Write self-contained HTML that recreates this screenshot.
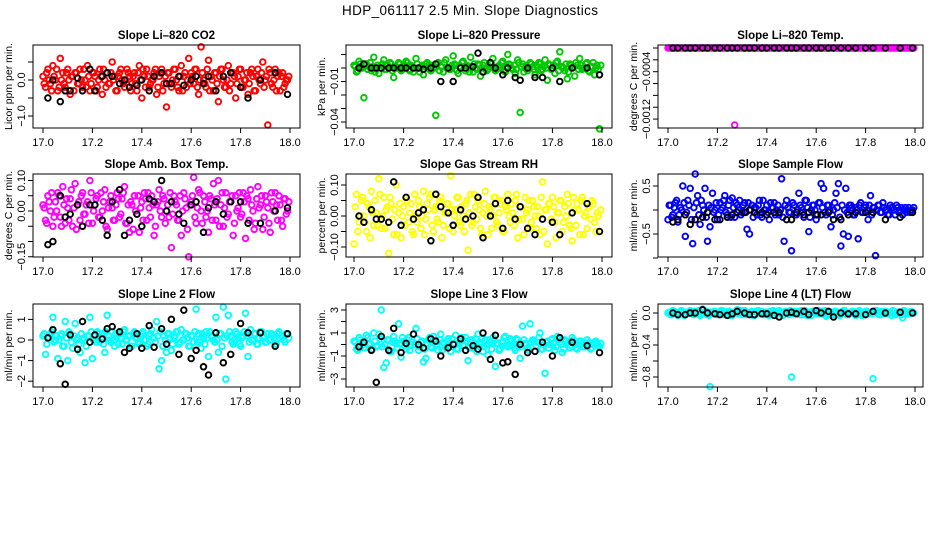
<!DOCTYPE html>
<html><head><meta charset="utf-8"><style>
html,body{margin:0;padding:0;background:#fff;}
svg{display:block;font-family:"Liberation Sans",sans-serif;}
</style></head><body>
<svg id="chart" width="936" height="540" viewBox="0 0 936 540" xmlns="http://www.w3.org/2000/svg">
<rect width="936" height="540" fill="#fff"/>
<text x="470" y="15" text-anchor="middle" font-size="13.5" textLength="256">HDP_061117  2.5 Min. Slope Diagnostics</text>
</svg>
<script>
const timesAll=[17.00,17.01,17.02,17.03,17.04,17.05,17.06,17.07,17.08,17.09,17.10,17.11,17.12,17.13,17.14,17.15,17.16,17.17,17.18,17.19,17.20,17.21,17.22,17.23,17.24,17.25,17.26,17.27,17.28,17.29,17.30,17.31,17.32,17.33,17.34,17.35,17.36,17.37,17.38,17.39,17.40,17.41,17.42,17.43,17.44,17.45,17.46,17.47,17.48,17.49,17.50,17.51,17.52,17.53,17.54,17.55,17.56,17.57,17.58,17.59,17.60,17.61,17.62,17.63,17.64,17.65,17.66,17.67,17.68,17.69,17.70,17.71,17.72,17.73,17.74,17.75,17.76,17.77,17.78,17.79,17.80,17.81,17.82,17.83,17.84,17.85,17.86,17.87,17.88,17.89,17.90,17.91,17.92,17.93,17.94,17.95,17.96,17.97,17.98,17.99];
const timesAll2=[17.005,17.015,17.025,17.035,17.045,17.055,17.065,17.075,17.085,17.095,17.105,17.115,17.125,17.135,17.145,17.155,17.165,17.175,17.185,17.195,17.205,17.215,17.225,17.235,17.245,17.255,17.265,17.275,17.285,17.295,17.305,17.315,17.325,17.335,17.345,17.355,17.365,17.375,17.385,17.395,17.405,17.415,17.425,17.435,17.445,17.455,17.465,17.475,17.485,17.495,17.505,17.515,17.525,17.535,17.545,17.555,17.565,17.575,17.585,17.595,17.605,17.615,17.625,17.635,17.645,17.655,17.665,17.675,17.685,17.695,17.705,17.715,17.725,17.735,17.745,17.755,17.765,17.775,17.785,17.795,17.805,17.815,17.825,17.835,17.845,17.855,17.865,17.875,17.885,17.895,17.905,17.915,17.925,17.935,17.945,17.955,17.965,17.975,17.985,17.995];
const timesSel=[17.02,17.04,17.07,17.09,17.11,17.14,17.16,17.19,17.21,17.24,17.26,17.28,17.31,17.33,17.35,17.38,17.40,17.43,17.45,17.48,17.50,17.52,17.55,17.57,17.60,17.62,17.65,17.67,17.70,17.73,17.76,17.80,17.83,17.88,17.94,17.99];
const co2All=[0.1,-0.2,0.3,-0.1,0.4,0.0,-0.3,0.6,0.2,-0.2,0.3,-0.4,0.1,0.2,-0.1,0.3,-0.2,0.0,0.4,-0.3,0.2,0.1,-0.2,0.3,-0.4,0.0,0.2,-0.1,0.5,0.1,-0.3,0.2,0.0,-0.2,0.3,0.1,-0.1,0.2,-0.3,0.4,-0.5,0.1,0.3,-0.2,0.0,0.2,-0.4,0.1,0.3,-0.1,-0.75,0.2,-0.2,0.3,0.0,-0.3,0.4,0.1,-0.2,0.6,0.2,-0.1,0.3,-0.4,0.92,0.0,-0.2,0.55,0.1,-0.3,0.2,-0.6,0.3,0.0,-0.2,0.4,-0.1,0.2,-0.5,0.1,0.3,-0.2,0.0,-0.4,0.2,0.1,-0.3,0.3,-0.1,0.5,0.0,-1.25,0.2,-0.2,0.3,0.1,-0.3,0.2,-0.1,0.0];
const co2All2=[-0.1,0.2,0.0,-0.3,0.1,0.3,-0.2,0.0,-0.1,0.2,0.0,0.1,-0.3,0.2,-0.1,0.0,0.3,-0.2,0.1,-0.1,0.2,-0.3,0.0,0.1,0.3,-0.2,-0.1,0.2,0.0,-0.3,0.1,0.3,-0.1,0.0,0.2,-0.3,0.1,-0.1,0.2,0.0,0.3,-0.2,0.1,-0.1,0.0,0.3,-0.2,0.2,-0.3,0.1,0.2,-0.1,0.0,0.3,-0.2,0.1,-0.3,0.2,0.0,-0.1,0.1,0.3,-0.2,0.0,0.2,-0.1,0.3,-0.3,0.0,0.2,-0.1,0.1,0.3,-0.2,0.0,-0.3,0.2,0.1,-0.1,0.3,-0.2,0.0,0.2,-0.1,0.3,-0.3,0.1,0.0,0.2,-0.2,0.1,0.3,-0.1,0.0,-0.3,0.2,0.1,-0.2,0.0,0.1];
const co2Sel=[-0.5,0.0,-0.6,-0.3,-0.3,0.05,-0.3,0.3,-0.3,0.1,0.2,0.1,-0.1,0.0,-0.2,-0.15,0.0,-0.3,0.1,0.2,-0.1,-0.1,0.1,-0.15,0.0,0.1,-0.1,0.1,-0.3,0.1,0.2,-0.2,-0.5,0.0,0.2,-0.4];
const presAll=[0.002,-0.003,0.005,0,-0.022,0.003,0.001,-0.002,0.008,0,-0.004,0.002,0.006,-0.001,0,0.003,-0.007,0.001,0.004,-0.002,0,0.005,-0.001,0.002,-0.003,0.007,0,0.001,-0.005,0.003,0.002,-0.002,0,-0.035,0.004,0.001,-0.003,0.006,0,-0.001,0.009,0.002,-0.004,0,0.005,-0.002,0.001,0.008,-0.003,0,0.003,-0.006,0.002,0,-0.001,0.004,0.007,-0.002,0.001,0,0.005,-0.003,0.010,0.002,-0.001,-0.004,0.006,-0.033,0.003,0,-0.002,0.004,0.001,-0.005,0,0.003,-0.001,0.006,-0.009,0.002,0,-0.004,0.005,0.012,0.001,-0.002,-0.008,0.003,0,-0.006,0.002,0.007,-0.001,0,0.004,-0.003,0.001,-0.005,0.002,-0.045];
const presAll2=[0.001,-0.002,0.003,0,0.002,-0.001,0.004,0.001,-0.003,0.002,0,0.003,-0.001,0.002,0.004,-0.002,0.001,0,0.003,-0.001,0.002,0.004,-0.002,0.001,0,0.003,-0.003,0.002,0.001,0.004,-0.001,0.002,0,0.003,-0.002,0.001,0.004,0,-0.001,0.002,0.003,-0.002,0.001,0.004,0,0.002,-0.003,0.001,0.003,-0.001,0.002,0,0.004,-0.002,0.001,0.003,0,-0.001,0.002,0.004,-0.002,0.001,0.003,0,0.002,-0.001,0.004,0.001,-0.003,0.002,0,0.003,-0.001,0.002,0.004,-0.002,0.001,0,0.003,-0.001,0.002,0.004,-0.002,0.001,0,0.003,-0.003,0.002,0.001,0.004,-0.001,0.002,0,0.003,-0.002,0.001,0.004,0,-0.001,0.002];
const presSel=[0,0.003,0,0,0,0,0,0,0,0,0,-0.001,0,0.003,-0.01,0,-0.01,0,0,0.001,0.011,-0.003,0.004,0,-0.005,0,-0.007,-0.009,0,-0.007,-0.007,0,-0.01,0,0,-0.005];
const tempAll=[0,0,0,0,0,0,0,0,0,0,0,0,0,0,0,0,0,0,0,0,0,0,0,0,0,0,0,-0.0013,0,0,0,0,0,0,0,0,0,0,0,0,0,0,0,0,0,0,0,0,0,0,0,0,0,0,0,0,0,0,0,0,0,0,0,0,0,0,0,0,0,0,0,0,0,0,0,0,0,0,0,0,0,0,0,0,0,0,0,0,0,0,0,0,0,0,0,0,0,0,0,0];
const tempAll2=[0,0,0,0,0,0,0,0,0,0,0,0,0,0,0,0,0,0,0,0,0,0,0,0,0,0,0,0,0,0,0,0,0,0,0,0,0,0,0,0,0,0,0,0,0,0,0,0,0,0,0,0,0,0,0,0,0,0,0,0,0,0,0,0,0,0,0,0,0,0,0,0,0,0,0,0,0,0,0,0,0,0,0,0,0,0,0,0,0,0,0,0,0,0,0,0,0,0,0,0];
const tempSel=[0,0,0,0,0,0,0,0,0,0,0,0,0,0,0,0,0,0,0,0,0,0,0,0,0,0,0,0,0,0,0,0,0,0,0,0];
const boxAll=[0.02,-0.03,0.05,0.0,-0.05,0.03,0.06,-0.02,0.08,-0.04,0.01,0.04,-0.05,0.09,0.02,-0.03,0.06,-0.01,0.03,0.10,-0.04,0.02,0.05,-0.02,0.0,0.07,-0.06,0.03,0.01,-0.03,0.06,-0.02,0.04,0.08,-0.04,-0.07,0.02,0.05,-0.01,-0.07,0.03,0.06,-0.03,0.01,0.05,-0.08,0.02,0.07,-0.02,0.04,0.0,-0.02,-0.12,0.05,0.02,-0.03,-0.08,0.06,0.01,-0.15,0.03,0.11,-0.04,0.07,0.0,0.05,-0.02,-0.07,0.04,0.09,-0.03,0.10,0.02,-0.05,0.06,-0.01,0.03,-0.08,0.05,0.01,-0.02,0.06,-0.09,0.04,0.07,0.0,-0.04,0.08,0.02,-0.06,0.05,0.01,-0.07,0.03,0.06,-0.03,0.02,-0.05,0.04,0.0];
const boxAll2=[0.01,-0.04,0.03,0.06,-0.02,0.0,0.05,-0.05,0.02,0.04,-0.03,0.07,0.01,-0.06,0.03,0.05,-0.01,0.02,-0.04,0.06,0.0,0.04,-0.02,0.06,0.03,-0.05,0.01,0.05,-0.03,0.02,0.04,-0.01,0.06,-0.04,0.02,0.03,-0.06,0.0,0.05,0.01,-0.03,0.04,0.06,-0.02,0.02,-0.05,0.03,0.0,0.05,-0.04,0.02,0.06,-0.01,0.03,-0.03,0.05,0.0,0.04,-0.06,0.02,0.05,-0.02,0.01,0.06,-0.04,0.03,0.0,0.05,-0.03,0.02,0.04,-0.05,0.06,0.01,-0.02,0.03,0.05,-0.04,0.0,0.06,-0.01,0.03,0.05,-0.03,0.02,-0.06,0.04,0.01,0.05,-0.02,0.03,-0.04,0.06,0.0,0.02,0.05,-0.03,0.04,-0.01,0.03];
const boxSel=[-0.11,-0.10,0.05,-0.02,-0.01,0.02,-0.05,0.02,0.02,-0.03,-0.08,0.03,0.07,-0.08,-0.03,-0.01,-0.05,0.04,0.03,0.10,0.0,0.03,-0.01,-0.04,0.02,0.03,-0.07,0.01,0.03,-0.01,0.03,0.03,-0.04,-0.04,0.0,0.01];
const rhAll=[-0.09,0.07,-0.02,0.05,0.0,-0.05,0.03,0.08,-0.03,0.01,0.12,-0.04,0.06,0.02,-0.12,0.04,-0.06,0.10,0.01,-0.07,0.03,0.06,-0.02,0.04,-0.06,0.0,0.05,-0.04,0.08,-0.01,0.02,0.07,-0.05,0.03,-0.02,0.06,-0.03,0.01,0.04,0.13,-0.05,0.02,0.06,-0.03,0.0,0.04,-0.11,0.07,-0.02,0.03,0.05,-0.04,0.01,0.08,-0.06,0.02,0.0,0.06,-0.03,0.04,-0.05,0.03,0.07,-0.02,0.01,0.05,-0.07,0.03,-0.01,0.06,0.02,-0.04,0.05,0.0,0.03,-0.06,0.11,0.02,-0.09,0.04,0.06,-0.02,0.01,0.05,-0.05,0.03,0.07,-0.03,-0.08,0.02,0.04,-0.06,0.06,0.0,-0.04,0.03,0.05,-0.02,0.01,-0.05];
const rhAll2=[0.03,-0.05,0.0,0.06,-0.02,0.04,-0.07,0.01,0.05,-0.03,0.07,0.0,-0.04,0.03,0.06,-0.01,0.02,-0.06,0.04,0.0,-0.03,0.05,0.01,-0.05,0.07,-0.02,0.03,0.0,-0.06,0.04,0.06,-0.03,0.02,-0.01,0.05,-0.07,0.01,0.04,-0.04,0.02,0.0,0.06,-0.02,0.03,-0.05,0.05,0.01,-0.03,0.07,-0.01,0.02,-0.06,0.04,0.0,0.03,-0.04,0.06,-0.02,0.01,0.05,-0.05,0.02,0.0,0.04,-0.03,0.07,-0.01,0.03,-0.06,0.01,0.05,-0.02,0.03,-0.04,0.0,0.06,-0.05,0.02,0.04,-0.01,0.03,-0.07,0.01,0.05,-0.02,0.0,0.04,-0.04,0.06,-0.03,0.02,0.05,-0.06,0.01,0.03,-0.01,0.04,-0.05,0.0,0.02];
const rhSel=[0.0,-0.02,0.02,-0.01,-0.01,-0.02,0.11,-0.03,0.06,-0.01,0.01,0.02,-0.08,0.07,0.03,0.01,-0.03,0.02,-0.01,0.0,0.06,-0.07,0.0,0.04,-0.04,0.05,-0.01,0.03,-0.04,-0.06,-0.01,-0.02,-0.06,0.01,0.04,-0.05];
const flowAll=[-0.2,0.1,-0.1,0.15,-0.25,0.05,0.5,-0.55,0.2,0.45,-0.7,0.75,0.3,-0.3,0.1,0.45,-0.65,-0.35,0.35,0.0,-0.2,0.15,0.05,0.3,-0.1,0.2,0.25,-0.15,0.1,0.2,-0.05,0.15,-0.4,-0.5,0.1,0.05,-0.1,0.2,-0.15,0.0,0.1,-0.2,0.05,0.15,0.0,-0.1,0.65,-0.65,0.2,-0.05,-0.85,0.1,-0.1,0.35,0.05,-0.15,0.2,-0.45,0.0,0.1,-0.2,0.15,0.55,0.45,-0.1,0.1,-0.35,0.0,0.35,0.55,-0.75,-0.5,0.45,-0.55,0.1,-0.1,0.05,-0.6,0.15,-0.05,0.1,-0.2,0.3,0.05,-0.95,0.1,-0.05,0.15,0.0,-0.1,0.1,0.05,-0.1,0.05,0.0,-0.1,0.05,0.0,-0.05,0.0];
const flowAll2=[0.1,-0.15,0.05,0.2,-0.1,0.0,0.15,-0.05,0.1,-0.2,0.05,0.15,-0.1,0.2,0.0,-0.15,0.1,0.05,-0.05,0.15,-0.1,0.0,0.2,-0.05,0.1,-0.15,0.05,0.15,0.0,-0.1,0.1,-0.05,0.15,0.0,-0.15,0.05,0.1,-0.1,0.2,0.0,-0.05,0.15,0.05,-0.1,0.1,0.0,-0.15,0.1,0.05,-0.05,0.15,-0.1,0.0,0.1,-0.05,0.2,0.05,-0.15,0.1,0.0,-0.1,0.15,0.05,-0.05,0.1,0.0,-0.1,0.15,0.05,-0.15,0.1,0.0,-0.05,0.1,0.05,-0.1,0.0,0.1,-0.05,0.05,0.0,0.1,-0.1,0.05,0.0,0.1,-0.05,0.05,0.0,-0.1,0.05,0.0,0.1,-0.05,0.05,0.0,-0.05,0.05,0.0,0.05];
const flowSel=[-0.25,-0.2,-0.1,-0.3,-0.2,-0.15,-0.05,-0.2,-0.2,-0.15,-0.1,-0.05,-0.05,0.0,-0.05,-0.05,-0.1,-0.05,-0.05,-0.2,-0.2,-0.05,-0.1,-0.05,-0.1,-0.1,-0.05,-0.2,-0.2,-0.1,-0.05,-0.05,-0.05,-0.2,-0.15,-0.05];
const line2All=[0.2,-0.7,0.1,0.3,1.1,0.0,-0.9,0.2,-0.3,0.9,-1.0,0.3,-0.4,0.8,0.1,-0.6,0.0,-1.1,0.2,1.1,-0.9,0.2,0.4,-0.1,0.3,-0.6,1.2,0.0,0.4,-0.3,0.1,0.3,-0.2,0.5,0.0,0.2,-0.3,0.4,0.1,-0.2,0.3,0.0,-0.3,0.2,0.5,0.1,0.9,-1.4,-1.0,0.2,-0.6,0.3,-0.5,0.1,0.4,-0.2,0.5,0.0,0.3,-0.3,0.2,-0.1,1.5,0.3,-0.4,0.1,0.4,-0.8,0.2,0.0,1.1,-0.6,0.3,1.6,-1.9,1.2,0.2,-0.2,0.4,0.1,-0.3,0.2,1.3,-0.8,0.5,0.0,0.3,-0.2,0.4,0.1,-0.1,0.3,0.0,0.2,-0.2,0.3,0.1,0.2,-0.1,0.3];
const line2All2=[0.3,-0.2,0.1,0.4,-0.1,0.2,0.0,0.3,-0.3,0.1,0.4,-0.1,0.2,0.0,-0.2,0.3,0.1,-0.3,0.2,0.4,0.0,-0.1,0.3,0.1,-0.2,0.4,0.2,-0.1,0.0,0.3,-0.2,0.1,0.4,0.0,0.2,-0.3,0.3,0.1,-0.1,0.2,0.4,0.0,-0.2,0.3,0.1,-0.1,0.2,0.4,-0.3,0.0,0.3,0.1,-0.2,0.2,0.4,-0.1,0.0,0.3,0.1,-0.3,0.2,0.4,-0.1,0.0,0.3,-0.2,0.1,0.4,0.2,-0.1,0.0,0.3,-0.3,0.1,0.2,0.4,-0.1,0.0,0.3,-0.2,0.1,0.4,0.2,-0.1,0.0,0.3,-0.2,0.1,0.4,0.2,-0.1,0.0,0.3,0.1,-0.2,0.4,0.2,0.0,0.3,0.1];
const line2Sel=[0.1,0.5,-1.15,-2.15,0.25,-0.45,0.9,-0.1,0.25,0.05,0.55,0.65,0.4,-0.6,-0.4,0.3,-0.4,0.7,-0.35,0.55,-0.2,1.0,-0.7,1.45,-0.9,-0.5,-1.3,-1.7,0.35,-1.1,-0.7,0.8,0.35,0.35,-0.3,0.3];
const line3All=[0.3,-0.4,0.6,0.1,-0.3,0.8,0.0,-0.5,1.0,-0.2,0.9,3.0,-2.0,-1.6,0.4,-0.6,0.7,0.1,1.8,-1.1,0.3,-0.4,0.6,0.0,0.9,1.4,-0.5,0.2,-1.5,-1.2,0.4,-0.2,0.7,0.0,-0.5,0.9,0.2,-0.3,0.5,-0.6,0.1,0.8,-0.4,0.3,-0.1,0.6,-1.4,0.2,-0.3,0.5,0.9,0.0,-0.6,0.4,-0.9,0.2,0.6,-1.9,0.1,-0.4,0.3,0.7,-0.2,0.5,0.0,-0.5,0.4,-1.2,1.6,0.1,-0.3,1.8,0.4,-0.6,0.2,1.0,-0.4,-2.5,0.3,0.0,0.5,-0.5,0.7,0.2,-0.7,0.4,0.1,-0.3,0.6,0.0,-0.4,0.3,0.1,-0.2,0.4,0.0,-0.3,0.2,0.1,-0.2];
const line3All2=[0.2,-0.5,0.4,0.0,-0.3,0.6,0.1,-0.4,0.3,-0.1,0.5,-0.2,0.0,0.4,-0.6,0.2,0.3,-0.3,0.1,0.6,-0.1,0.4,-0.5,0.2,0.0,0.5,-0.2,0.3,-0.4,0.1,0.6,-0.3,0.2,0.0,0.4,-0.5,0.1,0.3,-0.2,0.5,0.0,-0.4,0.2,0.6,-0.1,0.3,-0.3,0.4,0.1,-0.6,0.2,0.5,-0.2,0.0,0.4,-0.4,0.3,0.1,-0.5,0.2,0.6,-0.1,0.0,0.3,-0.3,0.5,0.1,-0.2,0.4,0.0,-0.5,0.2,0.3,-0.1,0.6,-0.4,0.0,0.2,-0.3,0.4,0.1,-0.2,0.5,0.0,-0.4,0.3,0.2,-0.1,0.4,-0.3,0.0,0.3,-0.2,0.1,0.2,-0.4,0.0,0.3,-0.1,0.1];
const line3Sel=[-0.2,0.2,-0.5,-3.3,0.7,-0.5,1.4,-0.7,0.1,0.9,0.0,-0.3,0.5,0.3,-1.0,-0.3,0.0,0.5,-0.5,-0.1,-0.4,1.0,-1.3,0.8,-1.6,-1.5,-2.6,0.0,-0.7,-0.6,0.2,-1.0,0.6,0.2,-0.1,-0.7];
const line4All=[0.0,-0.02,0.03,0.0,-0.03,0.02,0.01,-0.02,0.0,0.03,-0.01,0.02,0.0,-0.03,0.05,0.01,-0.02,-0.92,0.0,0.02,-0.02,0.01,0.03,-0.01,0.0,0.02,-0.03,0.01,0.04,0.0,-0.02,0.03,0.0,-0.01,0.02,-0.03,0.01,0.0,0.02,-0.02,0.01,-0.03,0.0,0.02,-0.01,0.03,0.0,-0.02,0.01,-0.02,-0.8,0.02,0.0,-0.01,0.03,-0.02,0.01,0.0,-0.03,0.02,0.0,0.03,-0.01,0.02,-0.04,0.0,0.01,-0.02,0.02,0.0,-0.01,0.03,0.0,-0.02,0.01,0.02,-0.03,0.0,0.01,-0.02,0.02,0.0,-0.01,-0.82,0.03,0.0,-0.02,0.01,0.02,-0.01,0.0,0.03,-0.02,0.01,0.0,-0.06,0.02,-0.01,0.0,0.01];
const line4All2=[0.01,-0.02,0.02,0.0,-0.01,0.03,-0.03,0.01,0.0,0.02,-0.02,0.01,0.03,-0.01,0.0,0.02,-0.03,0.01,0.02,-0.01,0.0,0.03,-0.02,0.01,0.02,-0.03,0.0,0.01,-0.01,0.03,0.02,-0.02,0.0,0.01,-0.03,0.02,0.03,-0.01,0.0,0.01,-0.02,0.02,0.03,0.0,-0.01,0.01,-0.03,0.02,0.0,0.03,-0.01,0.01,0.02,-0.02,0.0,0.03,-0.03,0.01,0.02,0.0,-0.01,0.02,0.0,0.03,-0.02,0.01,-0.01,0.02,0.0,-0.03,0.01,0.03,-0.02,0.0,0.02,-0.01,0.01,0.03,-0.03,0.0,0.02,-0.01,0.01,0.0,0.03,-0.02,0.02,-0.01,0.0,0.01,-0.03,0.02,0.0,0.01,-0.02,0.03,0.0,-0.01,0.02,0.0];
const line4Sel=[0.0,-0.02,-0.02,0.0,0.0,0.04,0.0,-0.01,-0.02,-0.03,-0.01,0.02,0.0,-0.02,-0.02,-0.01,-0.01,-0.03,-0.05,0.0,0.01,-0.01,0.02,-0.02,0.03,0.0,0.02,-0.05,0.0,-0.01,-0.01,-0.02,0.02,0.0,0.01,0.0];
const xTicks=[17.0,17.2,17.4,17.6,17.8,18.0];
const xTickLabels=["17.0","17.2","17.4","17.6","17.8","18.0"];
const panelTitles=["Slope Li\u2013820 CO2","Slope Li\u2013820 Pressure","Slope Li\u2013820 Temp.","Slope Amb. Box Temp.","Slope Gas Stream RH","Slope Sample Flow","Slope Line 2 Flow","Slope Line 3 Flow","Slope Line 4 (LT) Flow"];
const yTitles=["Licor ppm per min.","kPa per min.","degrees C per min.","degrees C per min.","percent per min.","ml/min per min.","ml/min per min.","ml/min per min.","ml/min per min."];
const yTickVals=[[-1,-0.5,0,0.5],[0.01,0,-0.01,-0.02,-0.03,-0.04],[0,-0.0002,-0.0004,-0.0006,-0.0008,-0.001,-0.0012],[0.1,0.05,0,-0.05,-0.1,-0.15],[0.1,0.05,0,-0.05,-0.1],[0.5,0,-0.5,-1],[1,0,-1,-2],[3,2,1,0,-1,-2,-3],[0,-0.2,-0.4,-0.6,-0.8]];
const yTickLabels=[["\u22121.0","","0.0",""],["","","\u22120.01","","","\u22120.04"],["","","\u22120.0004","","","","\u22120.0012"],["0.10","","0.00","","","\u22120.15"],["0.10","","0.00","","\u22120.10"],["0.5","","\u22120.5",""],["1","0","\u22121","\u22122"],["3","","1","","\u22121","","\u22123"],["0.0","","\u22120.4","","\u22120.8"]];
const allSeries=[co2All,presAll,tempAll,boxAll,rhAll,flowAll,line2All,line3All,line4All];
const allSeries2=[co2All2,presAll2,tempAll2,boxAll2,rhAll2,flowAll2,line2All2,line3All2,line4All2];
const selSeries=[co2Sel,presSel,tempSel,boxSel,rhSel,flowSel,line2Sel,line3Sel,line4Sel];
const seriesColors=["#ff0000","#00c800","#ff00ff","#ff00ff","#ffff00","#0000ff","#00ffff","#00ffff","#00ffff"];
// layout (not data)
const colBox=[[33,300],[346,612],[658,923]], colX=[[43,290],[354,602],[668,915]];
const rowBox=[[45,128],[174,257],[304,387]];
const yCal=[[0,80,-1,116],[0,68,-0.04,122],[0,48,-0.0013,125],[0,211,0.1,180.5],[0,216,0.1,185],[0,210,0.5,186],[0,340,1,319.4],[1,333,-1,356],[0,313,-0.4,345]];
const NS="http://www.w3.org/2000/svg";
const svg=document.getElementById('chart');
function mk(tag,attrs,parent){const e=document.createElementNS(NS,tag);for(const k in attrs)e.setAttribute(k,attrs[k]);parent.appendChild(e);return e;}
for(let p=0;p<9;p++){
  const c=p%3,r=Math.floor(p/3);
  const [bx0,bx1]=colBox[c],[by0,by1]=rowBox[r];
  const xs=v=>colX[c][0]+(v-17)*(colX[c][1]-colX[c][0]);
  const cal=yCal[p];
  const ys=v=>cal[1]+(v-cal[0])*(cal[3]-cal[1])/(cal[2]-cal[0]);
  const g=mk('g',{},svg);
  
  
  const t=mk('text',{x:(bx0+bx1)/2,y:by0-6,'text-anchor':'middle','font-size':'11.5','font-weight':'bold'},g);
  
  
  t.textContent=panelTitles[p];
  const yt=mk('text',{transform:`translate(${bx0-21},${(by0+by1)/2}) rotate(-90)`,'text-anchor':'middle','font-size':'10.5'},g);
  
  
  yt.textContent=yTitles[p];
  const ag=mk('g',{},g);
  
  
  allSeries[p].forEach((v,i)=>{
    const m=mk('circle',{cx:xs(timesAll[i]).toFixed(1),cy:ys(v).toFixed(1),r:2.8,fill:'none',stroke:seriesColors[p],'stroke-width':1.9},ag);
    
    
  });
  allSeries2[p].forEach((v,i)=>{
    const m=mk('circle',{cx:xs(timesAll2[i]).toFixed(1),cy:ys(v).toFixed(1),r:2.8,fill:'none',stroke:seriesColors[p],'stroke-width':1.9},ag);
    
    
  });
  const sg=mk('g',{},g);
  
  
  selSeries[p].forEach((v,i)=>{
    const m=mk('circle',{cx:xs(timesSel[i]).toFixed(1),cy:ys(v).toFixed(1),r:2.8,fill:'none',stroke:'#000','stroke-width':1.9},sg);
    
    
  });
  const box=mk('rect',{x:bx0,y:by0,width:bx1-bx0,height:by1-by0,fill:'none',stroke:'#000','stroke-width':1},g);
  
  
  xTicks.forEach((v,i)=>{
    const x=xs(v);
    mk('line',{x1:x,x2:x,y1:by1,y2:by1+5,stroke:'#000'},g);
    const l=mk('text',{x:x,y:by1+18,'text-anchor':'middle','font-size':'11'},g);
    
    
    l.textContent=xTickLabels[i];
  });
  yTickVals[p].forEach((v,i)=>{
    const y=ys(v);
    mk('line',{x1:bx0-5,x2:bx0,y1:y,y2:y,stroke:'#000'},g);
    if(yTickLabels[p][i]){
      const l=mk('text',{transform:`translate(${bx0-8},${y}) rotate(-90)`,'text-anchor':'middle','font-size':'11'},g);
      
      
      l.textContent=yTickLabels[p][i];
    }
  });
}
</script>
</body></html>
